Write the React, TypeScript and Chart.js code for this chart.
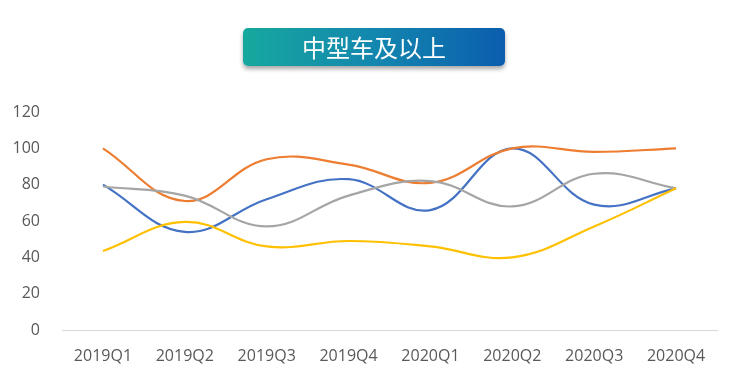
import React, { useEffect, useRef } from "react";
import { Chart, registerables } from "chart.js";

Chart.register(...registerables);

const categories = ["2019Q1", "2019Q2", "2019Q3", "2019Q4", "2020Q1", "2020Q2", "2020Q3", "2020Q4"];
const seriesBlue = [80, 54, 72, 83, 66, 100, 69, 78];
const seriesOrange = [100, 71, 94, 91, 81, 100, 98, 100];
const seriesGray = [79, 74, 57, 74, 82, 68, 86, 78];
const seriesYellow = [43.5, 59.5, 46, 49, 46, 40, 57, 78];
const yTicks = [0, 20, 40, 60, 80, 100, 120];

const title = "中型车及以上";
const tickFont = "'Open Sans', 'Noto Sans', sans-serif";

export default function App() {
  const ref = useRef<HTMLCanvasElement | null>(null);

  useEffect(() => {
    document.body.style.margin = "0";
    const canvas = ref.current;
    if (!canvas) return;
    const mk = (data: number[], color: string) => ({
      data,
      borderColor: color,
      backgroundColor: color,
      borderWidth: 2.2,
      pointRadius: 0,
      tension: 0.4,
      fill: false,
    });
    const chart = new Chart(canvas, {
      type: "line",
      data: {
        labels: categories,
        datasets: [
          mk(seriesYellow, "#FFC000"),
          mk(seriesGray, "#A5A5A5"),
          mk(seriesOrange, "#ED7D31"),
          mk(seriesBlue, "#4472C4"),
        ],
      },
      options: {
        animation: false,
        responsive: false,
        maintainAspectRatio: false,
        layout: { padding: { top: 112, left: 0, right: 27, bottom: 0 } },
        plugins: { legend: { display: false }, tooltip: { enabled: false }, title: { display: false } },
        scales: {
          x: {
            offset: true,
            grid: { display: false, drawTicks: false },
            border: { display: true, color: "#D9D9D9", width: 1 },
            afterFit: (axis: any) => {
              axis.height = 40;
            },
            ticks: {
              color: "#595959",
              font: { family: tickFont, size: 16 },
              padding: 17,
              maxRotation: 0,
            },
          },
          y: {
            min: 0,
            max: 120,
            afterBuildTicks: (axis: any) => {
              axis.ticks = yTicks.map((v) => ({ value: v }));
            },
            afterFit: (axis: any) => {
              axis.width = 62;
            },
            grid: { display: false, drawTicks: false },
            border: { display: false },
            ticks: {
              color: "#595959",
              font: { family: tickFont, size: 16 },
              padding: 22,
            },
          },
        },
      },
    });
    return () => chart.destroy();
  }, []);

  return (
    <div style={{ position: "absolute", left: 0, top: 0, width: 744, height: 370, background: "#fff" }}>
      <canvas ref={ref} width={744} height={370} style={{ position: "absolute", left: 0, top: 0 }} />
      <div
        style={{
          position: "absolute",
          left: 243,
          top: 28,
          width: 262,
          height: 38,
          borderRadius: 5,
          background: "linear-gradient(90deg, #17A89E 0%, #1387AF 50%, #0B5DAD 100%)",
          boxShadow: "0 3px 4px rgba(0,0,0,0.35)",
          color: "#fff",
          fontFamily: "'Noto Sans CJK SC', sans-serif",
          fontSize: 24,
          lineHeight: "38px",
          textAlign: "center",
        }}
      >
        {title}
      </div>
    </div>
  );
}
